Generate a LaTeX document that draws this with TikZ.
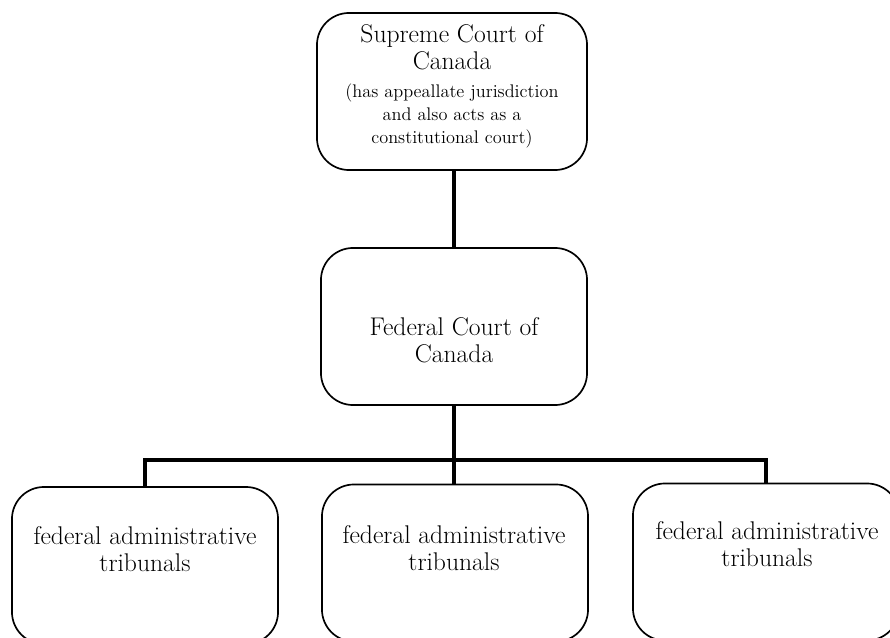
\documentclass[tikz,border=0pt]{standalone}
\usepackage{fontspec}
\usetikzlibrary{positioning}
\tikzset{court/.style={draw, rounded corners=0.8cm, line width=1.2pt, minimum width=6.65cm, minimum height=3.925cm, inner sep=0pt},
         courtname/.style={align=center, inner sep=0pt, font=\fontsize{18.2}{19.5}\selectfont},
         courtnote/.style={align=center, inner sep=0pt, font=\fontsize{13}{16.4}\selectfont},
         link/.style={line width=2.8pt}}

\begin{document}
\begin{tikzpicture}[x=0.025cm,y=-0.025cm]
   \useasboundingbox (0,0) rectangle (890,638);
   \node[court, minimum width=6.75cm] (scc) at (452,91.5) {};
   \node[court] (fcc)  at (454,326.5) {};
   \node[court] (fat1) at (145,565.5) {};
   \node[court] (fat2) at (455,563)   {};
   \node[court] (fat3) at (766,562)   {};
   \node[courtname, anchor=north] (scctitle) at (452,24) {Supreme Court of\\Canada};
   \node[courtnote, below=0.32cm of scctitle] (sccnote) {(has appeallate jurisdiction\\and also acts as a\\constitutional court)};
   \node[courtname, anchor=north] (fcctext)  at (454,317) {Federal Court of\\Canada};
   \node[courtname, anchor=north] (fat1text) at (145,526) {federal administrative\\tribunals};
   \node[courtname, anchor=north] (fat2text) at (454,525) {federal administrative\\tribunals};
   \node[courtname, anchor=north] (fat3text) at (767,521) {federal administrative\\tribunals};
   \coordinate (bar) at (454,460);
   \draw[link] (fcc.north |- scc.south) -- (fcc.north);
   \draw[link] (fcc.south) -- (fcc.south |- fat2.north);
   \draw[link] (fat1.north) |- (bar) -| (fat3.north);
\end{tikzpicture}
\end{document}
